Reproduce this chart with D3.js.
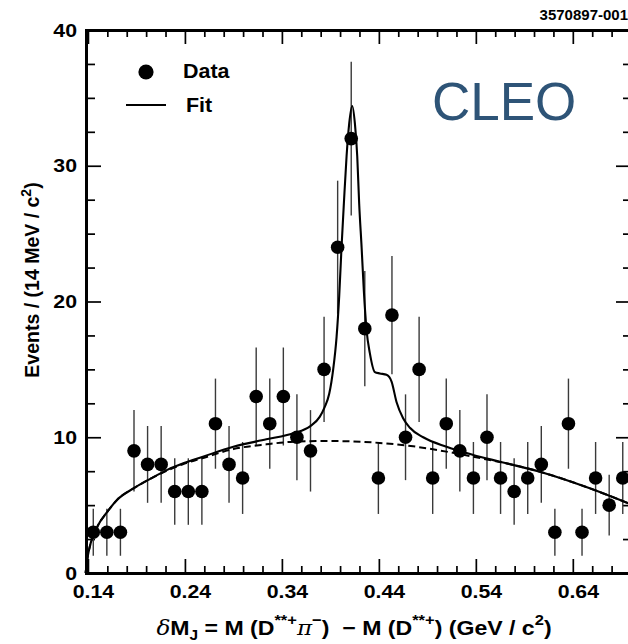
<!DOCTYPE html>
<html>
<head>
<meta charset="utf-8">
<script src="https://cdn.jsdelivr.net/npm/d3@7"></script>
<style>
  html, body { margin: 0; padding: 0; background: #fff; }
  svg { display: block; }
  text { font-family: "Liberation Sans", Arial, Helvetica, sans-serif; }
</style>
</head>
<body>
<svg id="chart" width="628" height="644"></svg>
<script>
// ---------------- data ----------------
const binCenters = [0.1455, 0.1595, 0.1735, 0.1875, 0.2015, 0.2155, 0.2295, 0.2435, 0.2575, 0.2715,
                    0.2855, 0.2995, 0.3135, 0.3275, 0.3415, 0.3555, 0.3695, 0.3835, 0.3975, 0.4115,
                    0.4255, 0.4395, 0.4535, 0.4675, 0.4815, 0.4955, 0.5095, 0.5235, 0.5375, 0.5515,
                    0.5655, 0.5795, 0.5935, 0.6075, 0.6215, 0.6355, 0.6495, 0.6635, 0.6775, 0.6915];
const counts = [3, 3, 3, 9, 8, 8, 6, 6, 6, 11,
                8, 7, 13, 11, 13, 10, 9, 15, 24, 32,
                18, 7, 19, 10, 15, 7, 11, 9, 7, 10,
                7, 6, 7, 8, 3, 11, 3, 7, 5, 7];
const errors = [1.73, 1.73, 1.73, 3.00, 2.83, 2.83, 2.45, 2.45, 2.45, 3.32,
                2.83, 2.65, 3.61, 3.32, 3.61, 3.16, 3.00, 3.87, 4.90, 5.66,
                4.24, 2.65, 4.36, 3.16, 3.87, 2.65, 3.32, 3.00, 2.65, 3.16,
                2.65, 2.45, 2.65, 2.83, 1.73, 3.32, 1.73, 2.65, 2.24, 2.65];

// full fit (signal + background)
const fitX = [0.1376, 0.1400, 0.1428, 0.1496, 0.1599, 0.1702, 0.1874, 0.2046, 0.2218, 0.2390,
              0.2578, 0.2900, 0.3240, 0.3520, 0.3690, 0.3790, 0.3840, 0.3888, 0.3929, 0.3964,
              0.3991, 0.4015, 0.4039, 0.4067, 0.4094, 0.4125, 0.4153, 0.4177, 0.4197, 0.4222,
              0.4245, 0.4273, 0.4307, 0.4359, 0.4410, 0.4479, 0.4531, 0.4582, 0.4650, 0.4720,
              0.4857, 0.5098, 0.5372, 0.5647, 0.6060, 0.6575, 0.7000];
const fitY = [0.0, 1.3, 2.2, 3.4, 4.5, 5.4, 6.25, 6.95, 7.6, 8.1,
              8.55, 9.3, 9.85, 10.3, 10.8, 11.5, 12.2, 13.2, 15.0, 17.4,
              20.4, 24.0, 27.2, 30.7, 33.1, 34.4, 33.1, 30.7, 27.2, 24.0,
              20.8, 17.9, 16.2, 14.8, 14.7, 14.6, 14.1, 12.6, 11.4, 10.7,
              10.0, 9.3, 8.7, 8.2, 7.46, 6.24, 5.05];
// background only (dashed)
const bgX = [0.1376, 0.1400, 0.1428, 0.1496, 0.1599, 0.1702, 0.1874, 0.2046, 0.2218, 0.2390,
             0.2578, 0.2900, 0.3240, 0.3520, 0.3870, 0.4100, 0.4410, 0.4754, 0.5098, 0.5372,
             0.5544, 0.5647, 0.6060, 0.6575, 0.7000];
const bgY = [0.0, 1.3, 2.2, 3.4, 4.5, 5.4, 6.25, 6.95, 7.55, 8.05,
             8.45, 9.13, 9.48, 9.67, 9.72, 9.70, 9.58, 9.33, 8.94, 8.57,
             8.32, 8.18, 7.46, 6.24, 5.05];

const xTickValues = [0.14, 0.24, 0.34, 0.44, 0.54, 0.64];
const xTickLabels = ["0.14", "0.24", "0.34", "0.44", "0.54", "0.64"];
const xMinorTicks = [0.16, 0.18, 0.20, 0.22, 0.26, 0.28, 0.30, 0.32, 0.36, 0.38, 0.40, 0.42,
                     0.46, 0.48, 0.50, 0.52, 0.56, 0.58, 0.60, 0.62, 0.66, 0.68];
const yTickValues = [0, 10, 20, 30, 40];
const yTickLabels = ["0", "10", "20", "30", "40"];
const yMinorTicks = [2.5, 5, 7.5, 12.5, 15, 17.5, 22.5, 25, 27.5, 32.5, 35, 37.5];

// ---------------- layout ----------------
const L = 86, R = 631, T = 30, B = 573;
const svg = d3.select("#chart");
const x = d3.scaleLinear().domain([0.138, 0.70]).range([L, R]);
const y = d3.scaleLinear().domain([0, 40]).range([B, T]);

const TXT_STRETCH = 1.12;

// ---------------- axes ----------------
function styleAxis(g, major) {
  g.selectAll(".tick line").attr("stroke", "#000").attr("stroke-width", 1.7);
  g.select(".domain").attr("stroke", "#000").attr("stroke-width", major ? 3 : 0)
    .attr("stroke-linecap", "square");
  g.selectAll(".tick text")
    .attr("fill", "#000")
    .attr("font-family", "'Liberation Sans', Arial, Helvetica, sans-serif")
    .attr("font-weight", "bold")
    .attr("font-size", 19);
}

// bottom
const gB = svg.append("g").attr("transform", `translate(0,${B})`)
  .call(d3.axisBottom(x).tickValues(xTickValues).tickSize(-14).tickSizeOuter(0)
        .tickPadding(12).tickFormat((d, i) => xTickLabels[i]));
styleAxis(gB, true);
gB.selectAll(".tick text").attr("transform", `translate(5,0) scale(${TXT_STRETCH},1)`);
const gBm = svg.append("g").attr("transform", `translate(0,${B})`)
  .call(d3.axisBottom(x).tickValues(xMinorTicks).tickSize(-7).tickSizeOuter(0).tickFormat(""));
styleAxis(gBm, false);

// top
const gT = svg.append("g").attr("transform", `translate(0,${T})`)
  .call(d3.axisTop(x).tickValues(xTickValues).tickSize(-14).tickSizeOuter(0).tickFormat(""));
styleAxis(gT, true);
const gTm = svg.append("g").attr("transform", `translate(0,${T})`)
  .call(d3.axisTop(x).tickValues(xMinorTicks).tickSize(-7).tickSizeOuter(0).tickFormat(""));
styleAxis(gTm, false);

// left
const gL = svg.append("g").attr("transform", `translate(${L},0)`)
  .call(d3.axisLeft(y).tickValues(yTickValues).tickSize(-15).tickSizeOuter(0)
        .tickPadding(9).tickFormat((d, i) => yTickLabels[i]));
styleAxis(gL, true);
gL.selectAll(".tick text").attr("transform", `scale(${TXT_STRETCH},1)`).attr("x", -9 / TXT_STRETCH);
const gLm = svg.append("g").attr("transform", `translate(${L},0)`)
  .call(d3.axisLeft(y).tickValues(yMinorTicks).tickSize(-9).tickSizeOuter(0).tickFormat(""));
styleAxis(gLm, false);

// right
const gR = svg.append("g").attr("transform", `translate(${R},0)`)
  .call(d3.axisRight(y).tickValues(yTickValues).tickSize(-15).tickSizeOuter(0).tickFormat(""));
styleAxis(gR, true);
const gRm = svg.append("g").attr("transform", `translate(${R},0)`)
  .call(d3.axisRight(y).tickValues(yMinorTicks).tickSize(-8).tickSizeOuter(0).tickFormat(""));
styleAxis(gRm, false);

// ---------------- data marks ----------------
const pts = binCenters.map((c, i) => ({ x: c, y: counts[i], e: errors[i] }));

svg.append("g").selectAll("line").data(pts).join("line")
  .attr("x1", d => x(d.x)).attr("x2", d => x(d.x))
  .attr("y1", d => y(Math.max(0, d.y - d.e))).attr("y2", d => y(d.y + d.e))
  .attr("stroke", "#3a3a3a").attr("stroke-width", 1.4);

const line = d3.line().x(d => x(d[0])).y(d => y(d[1])).curve(d3.curveMonotoneX);

svg.append("path")
  .datum(bgX.map((v, i) => [v, bgY[i]]))
  .attr("d", line).attr("fill", "none").attr("stroke", "#000")
  .attr("stroke-width", 2).attr("stroke-dasharray", "7,4");

svg.append("path")
  .datum(fitX.map((v, i) => [v, fitY[i]]))
  .attr("d", line).attr("fill", "none").attr("stroke", "#000")
  .attr("stroke-width", 2.1);

svg.append("g").selectAll("circle").data(pts).join("circle")
  .attr("cx", d => x(d.x)).attr("cy", d => y(d.y)).attr("r", 6.8).attr("fill", "#000");

// ---------------- legend ----------------
svg.append("circle").attr("cx", 146).attr("cy", 72).attr("r", 7.6).attr("fill", "#000");
svg.append("g").attr("transform", `translate(183,78) scale(1.1,1)`)
  .append("text").attr("font-weight", "bold").attr("font-size", 19.5).text("Data");
svg.append("line").attr("x1", 126).attr("x2", 166).attr("y1", 105).attr("y2", 105)
  .attr("stroke", "#000").attr("stroke-width", 2);
svg.append("g").attr("transform", `translate(186,112) scale(1.1,1)`)
  .append("text").attr("font-weight", "bold").attr("font-size", 19.5).text("Fit");

// ---------------- annotations ----------------
svg.append("text").attr("x", 432).attr("y", 120)
  .attr("font-size", 53).attr("fill", "#2e5477").text("CLEO");

svg.append("text").attr("x", 628).attr("y", 20).attr("text-anchor", "end")
  .attr("font-weight", "bold").attr("font-size", 15).text("3570897-001");

// y title
const yt = svg.append("g").attr("transform", "translate(39,280) rotate(-90)")
  .append("text").attr("text-anchor", "middle").attr("font-weight", "bold")
  .attr("font-size", 19.5).style("white-space", "pre");
yt.append("tspan").text("Events / (14 MeV / c");
yt.append("tspan").attr("dy", -8).attr("font-size", 14).text("2");
yt.append("tspan").attr("dy", 8).text(")");

// x title
const xt = svg.append("g").attr("transform", "translate(354,635) scale(1.1,1)")
  .append("text").attr("text-anchor", "middle").attr("font-weight", "bold")
  .attr("font-size", 21).style("white-space", "pre");
const greek = "'DejaVu Serif', 'Liberation Serif', serif";
xt.append("tspan").attr("font-family", greek).attr("font-style", "italic").attr("font-weight", "normal").text("δ");
xt.append("tspan").text("M");
xt.append("tspan").attr("dy", 5).attr("font-size", 14).text("J");
xt.append("tspan").attr("dy", -5).text(" = M (D");
xt.append("tspan").attr("dy", -10).attr("font-size", 15).text("**+");
xt.append("tspan").attr("dy", 10).attr("font-family", greek).attr("font-style", "italic").attr("font-weight", "normal").text("π");
xt.append("tspan").attr("dy", -10).attr("font-size", 15).text("−");
xt.append("tspan").attr("dy", 10).text(")  − M (D");
xt.append("tspan").attr("dy", -10).attr("font-size", 15).text("**+");
xt.append("tspan").attr("dy", 10).text(") (GeV / c");
xt.append("tspan").attr("dy", -10).attr("font-size", 15).text("2");
xt.append("tspan").attr("dy", 10).text(")");
</script>
</body>
</html>
